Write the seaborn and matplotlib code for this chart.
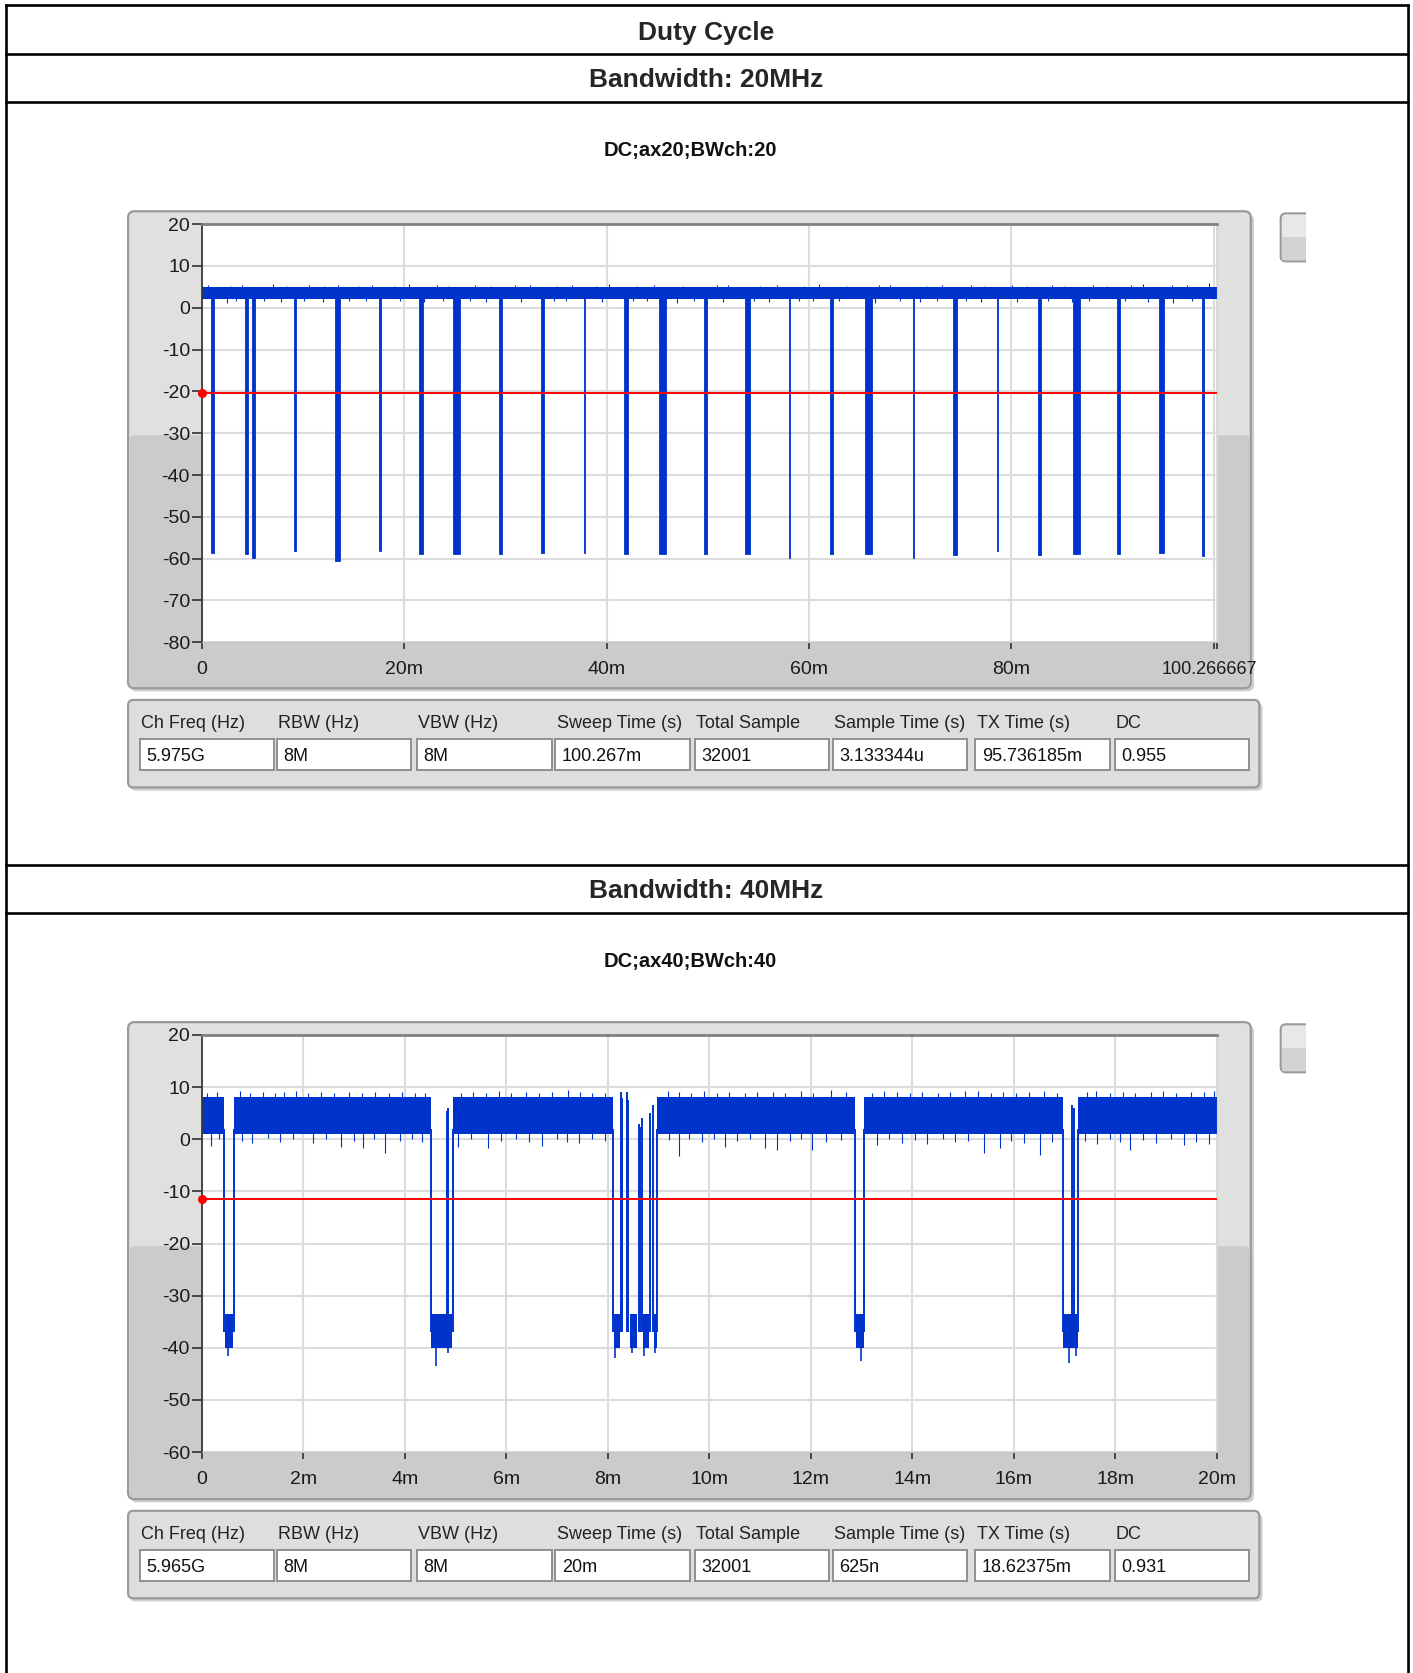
import matplotlib
matplotlib.use("Agg")
import matplotlib.pyplot as plt
import seaborn as sns
from matplotlib.patches import FancyBboxPatch, Rectangle
from matplotlib.lines import Line2D
from matplotlib.transforms import Affine2D, Bbox

# ---------------- values ----------------
page_title = "Duty Cycle"
section_titles = ["Bandwidth: 20MHz", "Bandwidth: 40MHz"]
graph_titles = ["DC;ax20;BWch:20", "DC;ax40;BWch:40"]

table_headers = ["Ch Freq (Hz)", "RBW (Hz)", "VBW (Hz)", "Sweep Time (s)",
                 "Total Sample", "Sample Time (s)", "TX Time (s)", "DC"]
bw20_table = ["5.975G", "8M", "8M", "100.267m", "32001", "3.133344u", "95.736185m", "0.955"]
bw40_table = ["5.965G", "8M", "8M", "20m", "32001", "625n", "18.62375m", "0.931"]

# 20 MHz trace, time in ms
bw20_sweep = 100.2667
bw20_band = [2.0, 4.9]
bw20_threshold = -20.5
bw20_dip_t = [1.05, 4.45, 5.1, 9.2, 13.4, 17.6, 21.7, 25.2, 29.5, 33.65, 37.8, 41.9, 45.5,
              49.8, 53.9, 58.1, 62.2, 65.9, 70.3, 74.4, 78.6, 82.8, 86.4, 90.6, 94.8, 98.9]
bw20_dip_w = [0.25, 0.25, 0.25, 0.14, 0.45, 0.14, 0.4, 0.7, 0.25, 0.3, 0.14, 0.45, 0.65,
              0.3, 0.45, 0.12, 0.3, 0.7, 0.12, 0.45, 0.16, 0.3, 0.7, 0.3, 0.45, 0.25]
bw20_dip_min = [-58.6, -59.0, -59.8, -58.2, -60.6, -58.2, -59.0, -59.0, -59.0, -58.6, -58.6, -59.0, -58.8,
                -59.0, -59.0, -59.8, -59.0, -59.0, -59.8, -59.2, -58.2, -59.2, -59.0, -59.0, -58.6, -59.4]
bw20_up_t = [0.6, 2.8, 4.0, 7.0, 8.3, 10.6, 12.1, 13.5, 15.4, 16.8, 19.0, 20.5, 23.2, 24.4, 27.0,
             28.6, 31.0, 32.4, 35.1, 36.6, 39.0, 40.2, 43.0, 44.7, 47.5, 50.9, 52.0, 55.2, 56.8,
             59.5, 61.0, 63.7, 66.9, 68.0, 71.6, 73.1, 76.0, 77.4, 80.1, 81.5, 84.0, 85.3, 88.1,
             89.4, 91.8, 93.0, 95.9, 97.3, 99.5]
bw20_up_v = [5.4, 5.3, 5.5, 5.6, 5.3, 5.4, 5.3, 5.5, 5.3, 5.4, 5.3, 5.6, 5.4, 5.3, 5.4,
             5.3, 5.4, 5.5, 5.3, 5.4, 5.3, 5.7, 5.3, 5.5, 5.3, 5.4, 5.4, 5.3, 5.4,
             5.3, 5.6, 5.3, 5.4, 5.4, 5.3, 5.4, 5.5, 5.3, 5.4, 5.3, 5.4, 5.3, 5.4,
             5.3, 5.4, 5.7, 5.4, 5.5, 5.9]
bw20_dn_t = [2.5, 3.4, 6.2, 7.8, 10.1, 12.0, 14.6, 16.2, 19.6, 22.0, 23.8, 26.5, 28.1, 31.5,
             34.8, 36.0, 39.5, 42.6, 44.0, 47.0, 48.6, 51.5, 54.6, 56.0, 59.0, 60.4, 63.0,
             66.5, 69.0, 71.0, 72.6, 75.5, 77.0, 80.5, 83.6, 86.0, 87.7, 91.2, 93.5, 96.0, 97.8]
bw20_dn_v = [1.2, 1.6, 1.5, 1.4, 1.6, 1.4, 1.5, 1.6, 1.5, 1.3, 1.6, 1.5, 1.4, 1.3,
             1.5, 1.6, 1.4, 1.5, 1.6, 1.2, 1.5, 1.4, 1.6, 1.4, 1.5, 1.6, 1.5,
             1.2, 1.5, 1.3, 1.6, 1.5, 1.4, 1.4, 1.5, 1.3, 1.6, 1.5, 1.4, 1.2, 1.5]
bw20_xticks = [0, 20, 40, 60, 80, 100, 100.2667]
bw20_xlabels = ["0", "20m", "40m", "60m", "80m", "", "100.266667m"]
bw20_yticks = [20, 10, 0, -10, -20, -30, -40, -50, -60, -70, -80]

# 40 MHz trace, time in ms
bw40_sweep = 20.0
bw40_band = [1.0, 8.1]
bw40_threshold = -11.5
bw40_on = [(0.0, 0.44), (0.63, 4.51), (4.95, 8.11), (8.98, 12.88), (13.06, 16.97), (17.27, 20.0)]
bw40_edges = [0.44, 0.63, 4.51, 4.95, 8.11, 8.98, 12.88, 13.06, 16.97, 17.27]
bw40_floor = [(0.45, 0.62), (4.52, 4.94), (8.12, 8.25), (8.44, 8.58), (8.69, 8.81),
              (8.92, 8.97), (12.89, 13.05), (16.98, 17.26)]
bw40_floor_band = [-40.0, -33.5]
bw40_burst_t = [4.83, 4.86, 8.27, 8.29, 8.38, 8.41, 8.61, 8.64, 8.67, 8.84, 8.90, 17.15, 17.19]
bw40_burst_top = [5.5, 6.0, 9.0, 8.0, 9.0, 7.5, 3.0, 2.4, 4.0, 5.0, 6.6, 6.5, 6.0]
bw40_min_t = [0.52, 4.62, 4.85, 8.14, 8.47, 8.72, 8.94, 13.0, 17.10, 17.22]
bw40_min_v = [-41.5, -43.5, -41.0, -42.0, -41.0, -41.5, -41.0, -42.5, -43.0, -41.5]
bw40_up_t = [0.1, 0.3, 0.75, 0.95, 1.2, 1.45, 1.62, 1.86, 2.1, 2.35, 2.6, 2.9, 3.15, 3.42, 3.7,
             3.95, 4.2, 4.4, 5.1, 5.35, 5.6, 5.85, 6.1, 6.4, 6.65, 6.9, 7.21, 7.45, 7.7, 7.95,
             9.18, 9.4, 9.65, 9.9, 10.15, 10.4, 10.7, 10.95, 11.25, 11.5, 11.8, 12.05, 12.41,
             12.7, 13.2, 13.44, 13.7, 13.95, 14.2, 14.5, 14.75, 15.05, 15.3, 15.55, 15.8, 16.05,
             16.3, 16.6, 16.85, 17.45, 17.63, 17.9, 18.15, 18.4, 18.7, 18.95, 19.2, 19.5, 19.75, 19.95]
bw40_up_v = [8.9, 9.0, 9.2, 8.9, 9.0, 8.8, 9.1, 9.3, 8.9, 9.0, 8.8, 9.1, 8.9, 9.0, 8.8,
             9.1, 8.9, 8.8, 8.8, 9.0, 8.9, 9.2, 8.9, 9.1, 8.8, 9.0, 9.5, 9.0, 8.9, 8.8,
             9.3, 9.0, 8.9, 9.2, 8.9, 9.0, 8.8, 9.1, 9.0, 8.9, 9.2, 8.9, 9.5,
             9.0, 8.9, 9.3, 9.0, 8.8, 9.1, 8.9, 9.0, 9.2, 9.3, 8.9, 9.1, 8.8,
             9.0, 9.2, 8.9, 9.0, 9.3, 8.9, 9.1, 8.8, 9.0, 9.2, 8.9, 9.1, 9.0, 9.2]
bw40_dn_t = [0.19, 0.35, 0.8, 0.99, 1.3, 1.55, 1.8, 2.19, 2.45, 2.75, 3.0, 3.18, 3.4, 3.62,
             3.9, 4.15, 4.35, 5.06, 5.3, 5.65, 5.9, 6.2, 6.45, 6.70, 7.0, 7.2, 7.43, 7.7, 7.95,
             9.2, 9.40, 9.6, 9.85, 10.1, 10.32, 10.55, 10.8, 11.11, 11.33, 11.6, 11.8, 12.03,
             12.3, 12.6, 13.30, 13.55, 13.8, 14.05, 14.3, 14.6, 14.85, 15.1, 15.41, 15.73,
             15.95, 16.2, 16.52, 16.75, 17.4, 17.65, 17.9, 18.1, 18.29, 18.55, 18.8, 19.1,
             19.36, 19.6, 19.85]
bw40_dn_v = [-1.2, 0.0, -0.3, -0.8, 0.2, -0.5, 0.0, -0.8, 0.1, -1.5, -0.4, -1.7, 0.0, -2.7,
             -0.3, 0.1, -0.6, -1.5, 0.0, -1.7, -0.4, 0.0, -0.6, -1.3, 0.1, -0.5, -0.8, 0.0, -0.4,
             -0.2, -3.3, 0.0, -0.6, 0.1, -1.4, -0.3, 0.0, -1.6, -2.0, -0.4, 0.0, -2.0,
             -0.5, -0.2, -1.1, 0.0, -0.7, -0.2, -0.9, 0.0, -0.5, -0.3, -2.7, -1.7,
             -0.4, -0.8, -3.0, -0.5, -0.3, -0.9, 0.0, -0.6, -2.0, -0.2, -0.8, 0.0,
             -1.1, -0.5, -0.9]
bw40_xticks = [0, 2, 4, 6, 8, 10, 12, 14, 16, 18, 20]
bw40_xlabels = ["0", "2m", "4m", "6m", "8m", "10m", "12m", "14m", "16m", "18m", "20m"]
bw40_yticks = [20, 10, 0, -10, -20, -30, -40, -50, -60]

# ---------------- figure ----------------
BLUE = "#0033CC"
W, H = 1324, 1568  # layout units (reference as measured), y pointing down

sns.set_style("white")
plt.rcParams["font.family"] = ["Liberation Sans", "DejaVu Sans"]

fig = plt.figure(figsize=(14.13, 16.73), dpi=100)
fig.patch.set_facecolor("white")
L = Affine2D().scale(1 / W, -1 / H).translate(0, 1) + fig.transFigure


def box(x0, y0, x1, y1, r=0, **kw):
    if r:
        p = FancyBboxPatch((x0, y0), x1 - x0, y1 - y0,
                           boxstyle=f"round,pad=0,rounding_size={r}", transform=L, **kw)
    else:
        p = Rectangle((x0, y0), x1 - x0, y1 - y0, transform=L, **kw)
    fig.add_artist(p)
    return p


def hline(x0, x1, y, **kw):
    fig.add_artist(Line2D([x0, x1], [y, y], transform=L, **kw))


# outer report table
for y in [5, 50.5, 95.5, 810.5, 855.5]:
    hline(6, 1319, y, color="black", lw=1.9, solid_capstyle="projecting")
fig.add_artist(Line2D([6, 6], [5, 1568], transform=L, color="black", lw=1.9))
fig.add_artist(Line2D([1319, 1319], [5, 1568], transform=L, color="black", lw=1.9))
fig.text(662, 31, page_title, transform=L, ha="center", va="center",
         fontsize=19, fontweight="bold")


def section(dy, title, gtitle):
    fig.text(662, 75 + dy, title, transform=L, ha="center", va="center",
             fontsize=19, fontweight="bold")
    fig.text(647, 141 + dy, gtitle, transform=L, ha="center", va="center",
             fontsize=14.5, fontweight="bold", color="#111111")
    # graph frame
    box(122, 201 + dy, 1175, 648 + dy, r=6, facecolor="#cfcfcf", edgecolor="none", zorder=-3)
    box(120, 198 + dy, 1172, 645 + dy, r=6, facecolor="#e0e0e0", edgecolor="#9a9a9a", lw=1.6, zorder=-2)
    box(121.5, 408 + dy, 1170.5, 643.5 + dy, r=4, facecolor="#cbcbcb", edgecolor="none", zorder=-1.9)
    box(121.5, 602 + dy, 1170.5, 643.5 + dy, r=4, facecolor="#cbcbcb", edgecolor="none", zorder=-1.9)
    # small button at the right, cut by the page
    box(1200, 200 + dy, 1245, 245 + dy, r=5, facecolor="#e8e8e8", edgecolor="#9a9a9a", lw=1.5, zorder=-2)
    box(1201.5, 222 + dy, 1245, 243.5 + dy, facecolor="#d3d3d3", edgecolor="none", zorder=-1.9)
    box(1224, 190 + dy, 1270, 255 + dy, facecolor="white", edgecolor="none", zorder=-1.8)
    # parameter table
    box(122, 659 + dy, 1183, 741 + dy, r=5, facecolor="#cfcfcf", edgecolor="none", zorder=-3)
    box(120, 656 + dy, 1180, 738 + dy, r=5, facecolor="#dedede", edgecolor="#9a9a9a", lw=1.6, zorder=-2)


def fill_table(dy, values):
    col_x = [131, 259.5, 391, 520.5, 651, 780.5, 914, 1044.5]
    for cx, head, val in zip(col_x, table_headers, values):
        fig.text(cx + 1, 678 + dy, head, transform=L, ha="left", va="center",
                 fontsize=13, color="#222222")
        box(cx, 693 + dy, cx + 126, 722 + dy, facecolor="white", edgecolor="#8f8f8f", lw=1.4)
        fig.text(cx + 6, 709 + dy, val, transform=L, ha="left", va="center",
                 fontsize=13, color="#111111")


def make_axes(dy, bottom):
    ax = fig.add_axes([189 / W, 1 - (bottom + dy) / H, (1140 - 189) / W, (bottom - 210) / H])
    ax.set_facecolor("white")
    ax.grid(True, color="#dcdcdc", lw=1.5)
    ax.set_axisbelow(True)
    ax.spines["top"].set_color("#808080")
    ax.spines["top"].set_linewidth(2)
    ax.spines["left"].set_color("#3a3a3a")
    ax.spines["left"].set_linewidth(1.3)
    ax.spines["right"].set_color("#d6d6d6")
    ax.spines["bottom"].set_color("#c4c4c4")
    ax.tick_params(axis="y", direction="out", length=7, width=1.2, color="#303030",
                   labelsize=14, pad=1.5, labelcolor="#1a1a1a", left=True)
    ax.tick_params(axis="x", direction="out", length=5, width=1.2, color="#303030",
                   labelsize=14, pad=8.5, labelcolor="#1a1a1a", bottom=True)
    return ax


def threshold(ax, sweep, thr):
    sns.lineplot(x=[0, sweep], y=[thr, thr], color="#FF0000", linewidth=1.4, ax=ax, zorder=5)
    ax.plot([0], [thr], "o", color="#FF0000", ms=5.5, clip_on=False, zorder=6)


# ---------------- section 1: 20 MHz ----------------
section(0, section_titles[0], graph_titles[0])
fill_table(0, bw20_table)
ax1 = make_axes(0, 602)
ax1.fill_between([0, bw20_sweep], bw20_band[0], bw20_band[1], color=BLUE, lw=0)
ax1.vlines(bw20_up_t, bw20_band[1] - 0.5, bw20_up_v, color=BLUE, lw=0.8)
ax1.vlines(bw20_dn_t, bw20_dn_v, bw20_band[0] + 0.5, color=BLUE, lw=0.8)
ax1.bar(bw20_dip_t, [3.0 - m for m in bw20_dip_min], width=bw20_dip_w,
        bottom=bw20_dip_min, color=BLUE, linewidth=0.6, edgecolor=BLUE)
threshold(ax1, bw20_sweep, bw20_threshold)
ax1.set_xlim(0, bw20_sweep)
ax1.set_ylim(-80, 20)
ax1.set_xticks(bw20_xticks)
ax1.set_xticklabels(bw20_xlabels)
ax1.set_yticks(bw20_yticks)
ax1.set_yticklabels([str(v) for v in bw20_yticks])
ax1.set_xlabel("")
ax1.set_ylabel("")

# ---------------- section 2: 40 MHz ----------------
dy2 = 760
section(dy2, section_titles[1], graph_titles[1])
fill_table(dy2, bw40_table)
ax2 = make_axes(dy2, 601)
for x0, x1 in bw40_on:
    ax2.fill_between([x0, x1], bw40_band[0], bw40_band[1], color=BLUE, lw=0)
for x0, x1 in bw40_floor:
    ax2.fill_between([x0, x1], bw40_floor_band[0], bw40_floor_band[1], color=BLUE, lw=0)
ax2.vlines(bw40_edges, -37, bw40_band[0] + 1, color=BLUE, lw=1.4)
ax2.vlines(bw40_burst_t, -37, bw40_burst_top, color=BLUE, lw=1.4)
ax2.vlines(bw40_min_t, -38, bw40_min_v, color=BLUE, lw=1.2)
ax2.vlines(bw40_up_t, bw40_band[1] - 1, bw40_up_v, color=BLUE, lw=0.8)
ax2.vlines(bw40_dn_t, bw40_dn_v, bw40_band[0] + 1, color=BLUE, lw=0.8)
threshold(ax2, bw40_sweep, bw40_threshold)
ax2.set_xlim(0, bw40_sweep)
ax2.set_ylim(-60, 20)
ax2.set_xticks(bw40_xticks)
ax2.set_xticklabels(bw40_xlabels)
ax2.set_yticks(bw40_yticks)
ax2.set_yticklabels([str(v) for v in bw40_yticks])
ax2.set_xlabel("")
ax2.set_ylabel("")

# last x label of the first graph is cut by the frame; keep it a bit smaller
clip = Bbox.from_extents(0, 0, 1178 / W * 1413, 1673)
for t in ax1.xaxis.get_major_ticks():
    t.label1.set_clip_on(True)
    t.label1.set_clip_box(clip)
ax1.xaxis.get_major_ticks()[-1].label1.set_fontsize(13)

fig.savefig("out.png", dpi=100)
